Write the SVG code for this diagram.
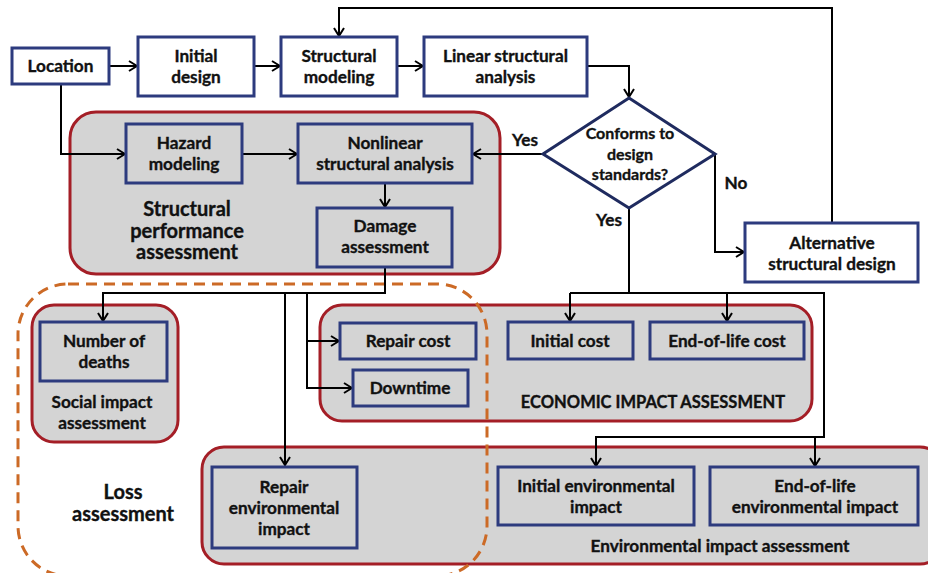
<svg xmlns="http://www.w3.org/2000/svg" width="928" height="573" viewBox="0 0 928 573">
  <defs>
    <marker id="arrow" viewBox="0 0 10 12" refX="9" refY="6" markerWidth="10" markerHeight="12" markerUnits="userSpaceOnUse" orient="auto">
      <path d="M1,1 L9,6 L1,11" fill="none" stroke="#000" stroke-width="2"/>
    </marker>
  </defs>
  <style>
    text { font-family: Lato, "Open Sans", "Liberation Sans", sans-serif; font-weight: bold; fill: #111; stroke: #111; stroke-width: 0.35; text-anchor: middle; }
    .t { font-size: 17.2px; }
    .caps { font-size: 16.5px; }
    .big { font-size: 20px; }
    .sm { font-size: 16px; }
    .box { fill: #fff; stroke: #2d3b7e; stroke-width: 3; }
    .gbox { fill: #d4d4d4; stroke: #2d3b7e; stroke-width: 3; }
    .group { fill: #d4d4d4; stroke: #a41e26; stroke-width: 3; }
    .loss { fill: none; stroke: #cc6a26; stroke-width: 3; stroke-dasharray: 11 7; }
    .diamond { fill: #fff; stroke: #1f2b5f; stroke-width: 3; }
    .line { fill: none; stroke: #000; stroke-width: 2; }
    .arr { marker-end: url(#arrow); }
  </style>

  <!-- assessment containers -->
  <g id="structural-performance">
    <rect class="group" x="70" y="112" width="430" height="162" rx="26"/>
    <text class="big" x="187" y="216">Structural</text>
    <text class="big" x="187" y="238">performance</text>
    <text class="big" x="187" y="259">assessment</text>
  </g>
  <g id="social-impact">
    <rect class="group" x="32" y="305" width="146" height="137" rx="22"/>
    <text class="t" x="102" y="408">Social impact</text>
    <text class="t" x="102" y="429">assessment</text>
  </g>
  <g id="economic-impact">
    <rect class="group" x="320" y="305" width="492" height="116" rx="22"/>
    <text class="caps" x="653" y="408">ECONOMIC IMPACT ASSESSMENT</text>
  </g>
  <g id="environmental-impact">
    <rect class="group" x="202" y="447" width="740" height="117" rx="22"/>
    <text class="t" x="720" y="552">Environmental impact assessment</text>
  </g>
  <g id="loss-assessment">
    <rect class="loss" x="18" y="284" width="469" height="292" rx="50"/>
    <text class="big" x="123" y="499">Loss</text>
    <text class="big" x="123" y="521">assessment</text>
  </g>

  <!-- connectors -->
  <g id="connectors">
    <polyline class="line arr" points="109,66 137,66"/>
    <polyline class="line arr" points="254,66 280,66"/>
    <polyline class="line arr" points="397,66 423,66"/>
    <polyline class="line arr" points="587,66 629,66 629,97"/>
    <polyline class="line arr" points="61,84 61,154 125,154"/>
    <polyline class="line arr" points="242,154 297,154"/>
    <polyline class="line arr" points="385,183 385,207"/>
    <polyline class="line arr" points="543,154 473,154"/>
    <polyline class="line arr" points="715,154 715,252 744,252"/>
    <polyline class="line arr" points="832,223 832,8 339,8 339,36"/>
    <!-- design accepted: economic and environmental branches -->
    <polyline class="line" points="629,208 629,293"/>
    <polyline class="line arr" points="570,293 570,321"/>
    <polyline class="line arr" points="570,293 824,293 824,437 596,437 596,466"/>
    <polyline class="line arr" points="727,293 727,321"/>
    <polyline class="line arr" points="815,437 815,466"/>
    <!-- loss branches from damage assessment -->
    <polyline class="line arr" points="385,267 385,293 103,293 103,321"/>
    <polyline class="line arr" points="285,293 285,465"/>
    <polyline class="line arr" points="307,293 307,341 339,341"/>
    <polyline class="line arr" points="307,341 307,388 352,388"/>
  </g>

  <!-- design loop -->
  <g id="location">
    <rect class="box" x="12" y="48" width="97" height="36"/>
    <text class="t" x="60.5" y="72">Location</text>
  </g>
  <g id="initial-design">
    <rect class="box" x="138" y="37" width="116" height="59"/>
    <text class="t" x="196" y="62">Initial</text>
    <text class="t" x="196" y="83">design</text>
  </g>
  <g id="structural-modeling">
    <rect class="box" x="281" y="37" width="116" height="59"/>
    <text class="t" x="339" y="62">Structural</text>
    <text class="t" x="339" y="83">modeling</text>
  </g>
  <g id="linear-analysis">
    <rect class="box" x="424" y="37" width="163" height="59"/>
    <text class="t" x="505.5" y="62">Linear structural</text>
    <text class="t" x="505.5" y="83">analysis</text>
  </g>
  <g id="conforms">
    <polygon class="diamond" points="629,98 715,154 629,208 543,154"/>
    <text class="sm" x="630" y="139">Conforms to</text>
    <text class="sm" x="630" y="160">design</text>
    <text class="sm" x="630" y="180">standards?</text>
  </g>
  <g id="decision-labels">
    <text class="t" x="525" y="146">Yes</text>
    <text class="t" x="736" y="189">No</text>
    <text class="t" x="609" y="226">Yes</text>
  </g>
  <g id="alternative-design">
    <rect class="box" x="745" y="223" width="173" height="59"/>
    <text class="t" x="832" y="249">Alternative</text>
    <text class="t" x="832" y="270">structural design</text>
  </g>

  <!-- structural performance assessment -->
  <g id="hazard-modeling">
    <rect class="gbox" x="126" y="124" width="116" height="59"/>
    <text class="t" x="184" y="149">Hazard</text>
    <text class="t" x="184" y="170">modeling</text>
  </g>
  <g id="nonlinear-analysis">
    <rect class="gbox" x="298" y="124" width="174" height="59"/>
    <text class="t" x="385" y="149">Nonlinear</text>
    <text class="t" x="385" y="170">structural analysis</text>
  </g>
  <g id="damage-assessment">
    <rect class="gbox" x="317" y="208" width="135" height="59"/>
    <text class="t" x="385" y="232">Damage</text>
    <text class="t" x="385" y="253">assessment</text>
  </g>

  <!-- impact nodes -->
  <g id="number-of-deaths">
    <rect class="gbox" x="40" y="322" width="127" height="59"/>
    <text class="t" x="104" y="347">Number of</text>
    <text class="t" x="104" y="368">deaths</text>
  </g>
  <g id="repair-cost">
    <rect class="gbox" x="340" y="323" width="136" height="36"/>
    <text class="t" x="408" y="347">Repair cost</text>
  </g>
  <g id="downtime">
    <rect class="gbox" x="353" y="370" width="115" height="36"/>
    <text class="t" x="410" y="394">Downtime</text>
  </g>
  <g id="initial-cost">
    <rect class="gbox" x="508" y="322" width="125" height="37"/>
    <text class="t" x="570" y="347">Initial cost</text>
  </g>
  <g id="end-of-life-cost">
    <rect class="gbox" x="650" y="322" width="154" height="37"/>
    <text class="t" x="727" y="347">End-of-life cost</text>
  </g>
  <g id="repair-environmental-impact">
    <rect class="gbox" x="212" y="467" width="145" height="81"/>
    <text class="t" x="284" y="493">Repair</text>
    <text class="t" x="284" y="514">environmental</text>
    <text class="t" x="284" y="535">impact</text>
  </g>
  <g id="initial-environmental-impact">
    <rect class="gbox" x="498" y="467" width="196" height="58"/>
    <text class="t" x="596" y="492">Initial environmental</text>
    <text class="t" x="596" y="513">impact</text>
  </g>
  <g id="end-of-life-environmental-impact">
    <rect class="gbox" x="710" y="467" width="208" height="58"/>
    <text class="t" x="815" y="492">End-of-life</text>
    <text class="t" x="815" y="513">environmental impact</text>
  </g>
</svg>
